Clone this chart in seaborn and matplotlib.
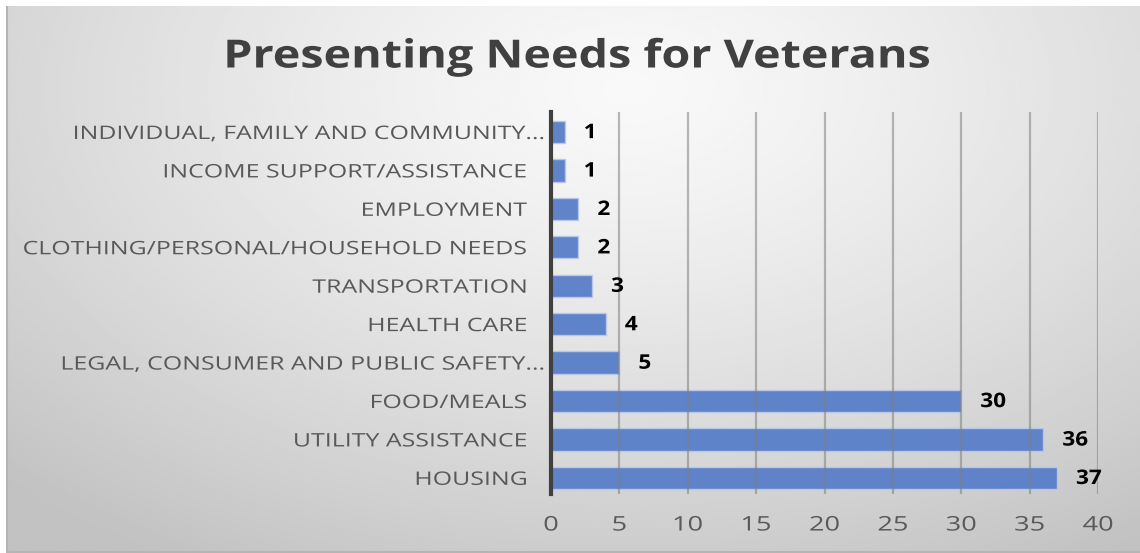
import numpy as np
import pandas as pd
import matplotlib
matplotlib.use("Agg")
import matplotlib.pyplot as plt
import matplotlib.patheffects as pe
from matplotlib.transforms import Affine2D, ScaledTranslation
import seaborn as sns

categories = [
    "INDIVIDUAL, FAMILY AND COMMUNITY...",
    "INCOME SUPPORT/ASSISTANCE",
    "EMPLOYMENT",
    "CLOTHING/PERSONAL/HOUSEHOLD NEEDS",
    "TRANSPORTATION",
    "HEALTH CARE",
    "LEGAL, CONSUMER AND PUBLIC SAFETY...",
    "FOOD/MEALS",
    "UTILITY ASSISTANCE",
    "HOUSING",
]
counts = [1, 1, 2, 2, 3, 4, 5, 30, 36, 37]
x_ticks = [0, 5, 10, 15, 20, 25, 30, 35, 40]

df = pd.DataFrame({"need": categories, "count": counts})


class HStretch(pe.AbstractPathEffect):
    """Widen glyph outlines horizontally about the left, centre or right edge."""

    def __init__(self, sx, anchor="center"):
        super().__init__()
        self.sx = sx
        self.anchor = anchor

    def draw_path(self, renderer, gc, tpath, affine, rgbFace=None):
        ext = tpath.get_extents()
        cx = {"left": ext.x0, "right": ext.x1,
              "center": 0.5 * (ext.x0 + ext.x1)}[self.anchor]
        t = Affine2D().translate(-cx, 0).scale(self.sx, 1).translate(cx, 0) + affine
        renderer.draw_path(gc, tpath, t, rgbFace)


sns.set_theme(style="white")
plt.rcParams["font.family"] = ["Open Sans", "DejaVu Sans"]

W, H = 1140, 553
fig = plt.figure(figsize=(W / 100, H / 100), dpi=100)
fig.patch.set_facecolor("white")

# Radial grey backdrop of the chart area
bg = fig.add_axes([6 / W, 0, 1 - 6 / W, 1 - 6 / H])
bg.set_axis_off()
yy, xx = np.mgrid[0:1:300j, 0:1:600j]
r = np.sqrt(((xx - 0.55) / 0.75) ** 2 + ((yy - 0.15) / 0.95) ** 2)
shade = np.clip(0.975 - 0.2 * r ** 1.3, 0.76, 0.975)
bg.imshow(shade, cmap="gray", vmin=0, vmax=1, aspect="auto",
          extent=[0, 1, 1, 0], interpolation="bilinear")
bg.set_xlim(0, 1)
bg.set_ylim(1, 0)
bg.plot([0, 1], [0.002, 0.002], color="#b5b5b5", lw=1.5, transform=bg.transAxes)
bg.plot([0.001, 0.001], [0, 1], color="#b5b5b5", lw=1.5, transform=bg.transAxes)

ax = fig.add_axes([551 / W, 1 - 494 / H, (1098 - 551) / W, (494 - 112) / H])
ax.patch.set_alpha(0)

sns.barplot(data=df, x="count", y="need", orient="h", color="#5b80c9",
            width=0.58, edgecolor="#b8c8ea", linewidth=1.0, saturation=1,
            alpha=0.97, ax=ax)

ax.set_xlim(0, 40)
ax.set_ylim(9.42, -0.52)
ax.set_xticks(x_ticks)
ax.set_xticklabels([str(t) for t in x_ticks])
ax.set_xlabel("")
ax.set_ylabel("")

ax.grid(axis="x", color="#7f7f7f", alpha=0.55, lw=1.6)
ax.grid(axis="y", visible=False)
ax.set_axisbelow(False)

for s in ["top", "right", "bottom"]:
    ax.spines[s].set_visible(False)
ax.spines["left"].set_color("#404040")
ax.spines["left"].set_linewidth(3)
ax.spines["left"].set_zorder(5)

ax.tick_params(axis="x", length=0, pad=15.5, labelsize=14.5, labelcolor="#595959")
ax.tick_params(axis="y", length=0, pad=17, labelsize=13.4, labelcolor="#595959")

for lab in ax.get_xticklabels():
    lab.set_path_effects([HStretch(1.35, "center")])
for lab in ax.get_yticklabels():
    lab.set_path_effects([HStretch(1.34, "right")])
    if lab.get_text().endswith("..."):
        lab.set_transform(lab.get_transform()
                          + ScaledTranslation(0.18, 0, fig.dpi_scale_trans))

for i, v in enumerate(counts):
    ax.text(v + 1.4, i + 0.03, str(v), va="center", ha="left",
            fontsize=14.5, fontweight="bold", color="black",
            path_effects=[HStretch(1.12, "left")])

fig.text(577 / W, 1 - 57 / H, "Presenting Needs for Veterans",
         ha="center", va="center", fontsize=28, fontweight="bold",
         color="#404040", path_effects=[HStretch(1.2, "center")])

fig.savefig("out.png", dpi=100, facecolor=fig.get_facecolor())
